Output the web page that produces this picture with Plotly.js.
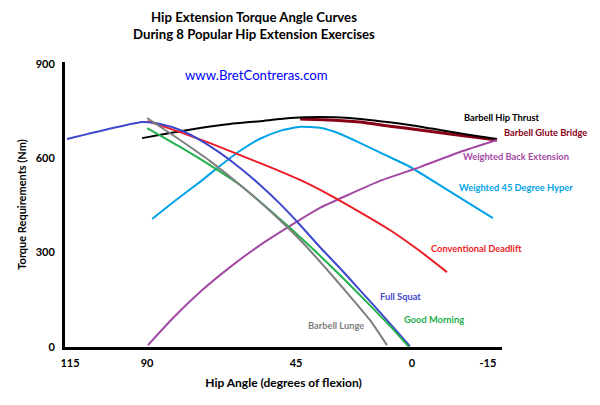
<!DOCTYPE html>
<html>
<head>
<meta charset="utf-8">
<script src="https://cdn.plot.ly/plotly-3.0.1.min.js"></script>
<style>
  html, body { margin: 0; padding: 0; background: #fff; }
  #chart { width: 600px; height: 405px; }
</style>
</head>
<body>
<div id="chart"></div>
<script>
// Hip extension torque-angle curves
// x = hip angle (degrees of flexion), y = torque requirement (Nm)

const squatX = [117.2, 91.4, 85.6, 78.8, 72.0, 65.2, 58.4, 51.6, 44.8, 38.0, 31.3, 24.5, 17.7, 10.9, 0.7];
const squatY = [661, 715, 709, 690, 658, 617, 569, 515, 455, 388, 318, 251, 181, 111, 3];

const hipThrustX = [91.7, 82.2, 72.0, 61.8, 51.6, 41.4, 31.3, 21.1, 10.9, 0.7, -9.5, -19.7, -28.9];
const hipThrustY = [664, 680, 696, 709, 718, 728, 731, 728, 718, 706, 690, 674, 661];

const gluteBridgeX = [38.0, 27.9, 17.7, 7.5, -2.7, -12.9, -28.9];
const gluteBridgeY = [725, 722, 715, 702, 690, 677, 658];

const hyperX = [88.3, 80.5, 72.0, 65.2, 58.4, 51.6, 44.8, 38.0, 31.3, 24.5, 17.7, 9.9, 0.7, -11.9, -27.5];
const hyperY = [407, 465, 525, 576, 624, 662, 687, 700, 697, 678, 649, 614, 573, 500, 410];

const deadliftX = [90.0, 78.8, 68.6, 58.4, 48.2, 38.0, 27.9, 17.7, 7.5, -2.7, -11.9];
const deadliftY = [718, 683, 648, 610, 572, 531, 483, 429, 372, 305, 238];

const goodMorningX = [90.0, 78.8, 67.6, 58.4, 49.9, 41.4, 32.9, 24.5, 16.0, 7.5, 1.0];
const goodMorningY = [696, 636, 572, 515, 448, 378, 305, 229, 149, 67, 0];

const lungeX = [90.0, 78.8, 68.6, 58.4, 48.2, 38.0, 29.6, 21.1, 14.3, 8.5];
const lungeY = [728, 658, 591, 515, 432, 340, 254, 162, 86, 6];

const backExtX = [89.7, 81.2, 72.0, 61.8, 51.6, 41.4, 31.3, 21.1, 10.9, -2.7, -16.3, -28.9];
const backExtY = [6, 92, 175, 254, 324, 385, 442, 486, 528, 572, 620, 658];

// the source spaces its angle labels unevenly, so labels sit where it puts them
const xTickPos = [116.2, 90, 39.4, 0, -25.8];
const xTickText = ['115', '90', '45', '0', '-15'];
const yTickVals = [0, 300, 600, 900];

const names = ['Full Squat', 'Barbell Hip Thrust', 'Barbell Glute Bridge', 'Weighted 45 Degree Hyper',
  'Conventional Deadlift', 'Good Morning', 'Barbell Lunge', 'Weighted Back Extension'];

const FONT = 'Lato, "Open Sans", sans-serif';

function line(x, y, name, color, width) {
  return {
    x: x, y: y, name: name,
    type: 'scatter', mode: 'lines',
    line: { color: color, width: width || 2, shape: 'spline', smoothing: 0.5 },
    hoverinfo: 'x+y+name'
  };
}

const traces = [
  line(gluteBridgeX, gluteBridgeY, names[2], '#880015', 3),
  line(hipThrustX, hipThrustY, names[1], '#000000', 2),
  line(hyperX, hyperY, names[3], '#00a2e8', 2),
  line(backExtX, backExtY, names[7], '#a349a4', 2),
  line(deadliftX, deadliftY, names[4], '#ed1c24', 2),
  line(squatX, squatY, names[0], '#3f48cc', 2),
  line(goodMorningX, goodMorningY, names[5], '#22b14c', 2),
  line(lungeX, lungeY, names[6], '#7f7f7f', 2)
];

// label positions next to the curve ends
const labels = [
  { text: names[1], x: -17.0, y: 731, color: '#000000' },
  { text: names[2], x: -30.6, y: 681, color: '#880015' },
  { text: names[7], x: -16.6, y: 607, color: '#a349a4' },
  { text: names[3], x: -15.3, y: 506, color: '#00a2e8' },
  { text: names[4], x: -5.8, y: 312, color: '#ed1c24' },
  { text: names[0], x: 11.5, y: 159, color: '#3f48cc' },
  { text: names[5], x: 3.4, y: 89, color: '#22b14c' },
  { text: names[6], x: 36.0, y: 67, color: '#7f7f7f' }
];

const annotations = labels.map(l => ({
  text: '<b>' + l.text + '</b>',
  x: l.x, y: l.y, xref: 'x', yref: 'y',
  xanchor: 'left', yanchor: 'middle', showarrow: false,
  font: { family: FONT, size: 9.3, color: l.color }
}));

annotations.push({
  text: 'www.BretContreras.com',
  xref: 'paper', yref: 'paper', x: 0.438, y: 0.955,
  xanchor: 'center', yanchor: 'middle', showarrow: false,
  font: { family: FONT, size: 13.2, color: '#0000ff' }
});

const layout = {
  width: 600, height: 405,
  margin: { l: 65, r: 98, t: 62, b: 58 },
  paper_bgcolor: '#ffffff',
  plot_bgcolor: '#ffffff',
  showlegend: false,
  font: { family: FONT, color: '#000000' },
  title: {
    text: '<b>Hip Extension Torque Angle Curves<br>During 8 Popular Hip Extension Exercises</b>',
    x: 254 / 600, xanchor: 'center',
    y: 0.945, yanchor: 'top', yref: 'container',
    font: { family: FONT, size: 13.2, color: '#000000' }
  },
  xaxis: {
    range: [117.9, -30.6],
    showgrid: false, zeroline: false,
    showline: true, linecolor: '#000000', linewidth: 3,
    tickmode: 'array', tickvals: xTickPos, ticktext: xTickText,
    ticks: '', ticklabelstandoff: 4,
    tickfont: { family: FONT, size: 11, color: '#000000', weight: 'bold' },
    title: {
      text: '<b>Hip Angle (degrees of flexion)</b>',
      font: { family: FONT, size: 12, color: '#000000' },
      standoff: 11
    }
  },
  yaxis: {
    range: [0, 906],
    showgrid: false, zeroline: false,
    showline: true, linecolor: '#000000', linewidth: 3,
    tickmode: 'array', tickvals: yTickVals,
    ticks: '', ticklabelstandoff: 5,
    tickfont: { family: FONT, size: 11, color: '#000000', weight: 'bold' },
    title: {
      text: '<b>Torque Requirements (Nm)</b>',
      font: { family: FONT, size: 11, color: '#000000' },
      standoff: 7
    }
  },
  annotations: annotations
};

Plotly.newPlot('chart', traces, layout, { displayModeBar: false, staticPlot: true });
</script>
</body>
</html>
